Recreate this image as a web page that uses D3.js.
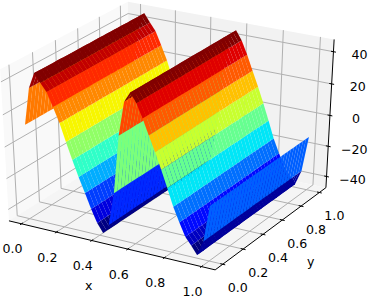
<!DOCTYPE html>
<html>
<head>
<meta charset="utf-8">
<script src="https://cdn.jsdelivr.net/npm/d3@7"></script>
<style>
  html, body { margin: 0; padding: 0; background: #fff; }
  svg { display: block; }
  text { font-family: "DejaVu Sans", sans-serif; font-size: 12.6px; fill: #000; }
</style>
</head>
<body>
<svg id="chart" width="368" height="299"></svg>
<script>
// grid of the surface
var xGrid = [0, 0.032, 0.065, 0.097, 0.129, 0.161, 0.194, 0.226, 0.258, 0.29, 0.323, 0.355, 0.387, 0.419, 0.452, 0.484,
             0.516, 0.548, 0.581, 0.613, 0.645, 0.677, 0.71, 0.742, 0.774, 0.806, 0.839, 0.871, 0.903, 0.935, 0.968, 1];
var yGrid = [0, 0.032, 0.065, 0.097, 0.129, 0.161, 0.194, 0.226, 0.258, 0.29, 0.323, 0.355, 0.387, 0.419, 0.452, 0.484,
             0.516, 0.548, 0.581, 0.613, 0.645, 0.677, 0.71, 0.742, 0.774, 0.806, 0.839, 0.871, 0.903, 0.935, 0.968, 1];
// height along x, it does not change along y
var zProfile = [12.6, 35.8, 45.5, 40.3, 35.6, 27.3, 18.3, 7.4, -3, -12.9, -22.3, -31.7, -39.9, -45.5, -39.4, -18.2,
                18.2, 39.4, 45.5, 39.9, 31.7, 22.3, 12.9, 3, -7.4, -18.3, -27.3, -35.6, -40.3, -45.5, -35.8, -12.6];
var xTicks = [0, 0.2, 0.4, 0.6, 0.8, 1];
var yTicks = [0, 0.2, 0.4, 0.6, 0.8, 1];
var zTicks = [-40, -20, 0, 20, 40];

// data to unit cube
var xCube = d3.scaleLinear().domain([-0.05, 1.05]).range([0, 1]);
var yCube = d3.scaleLinear().domain([-0.05, 1.05]).range([0, 1]);
var zCube = d3.scaleLinear().domain([-45.6, 45.6]).range([0, 1]);
// panes stick out of the cube a little
var lo = -1 / 48, hi = 49 / 48;

// camera, elev 30, azim -60, dist 10
var uAxis = [0.866, 0.5, 0];
var vAxis = [-0.25, 0.433, 0.866];
var wAxis = [0.433, -0.75, 0.5];
var dist = 10;
var sx = d3.scaleLinear().domain([-0.1, 0.1]).range([170 - 228.5, 170 + 228.5]);
var sy = d3.scaleLinear().domain([-0.1, 0.1]).range([131 + 166, 131 - 166]);

function dot(a, b) { return a[0] * b[0] + a[1] * b[1] + a[2] * b[2]; }
function depth(c) {
	var p = [c[0] - 0.5, c[1] - 0.5, c[2] - 0.5];
	return dist - dot(wAxis, p);
}
// cube coordinates to pixels
function project(c) {
	var p = [c[0] - 0.5, c[1] - 0.5, c[2] - 0.5];
	var d = dist - dot(wAxis, p);
	return [sx(dot(uAxis, p) / d), sy(dot(vAxis, p) / d)];
}

// jet colormap
var jetR = d3.scaleLinear().domain([0, 0.35, 0.66, 0.89, 1]).range([0, 0, 1, 1, 0.5]);
var jetG = d3.scaleLinear().domain([0, 0.125, 0.375, 0.64, 0.91, 1]).range([0, 0, 1, 1, 0, 0]);
var jetB = d3.scaleLinear().domain([0, 0.11, 0.34, 0.65, 1]).range([0.5, 1, 1, 0, 0]);
function jet(t) {
	return d3.rgb(jetR(t) * 255, jetG(t) * 255, jetB(t) * 255).formatHex();
}

var svg = d3.select("#chart");
var line = d3.line();

// panes
var panes = [
	{ fill: "#f9f9f9", pts: [[lo, lo, lo], [lo, hi, lo], [lo, hi, hi], [lo, lo, hi]] },
	{ fill: "#f2f2f2", pts: [[lo, hi, lo], [hi, hi, lo], [hi, hi, hi], [lo, hi, hi]] },
	{ fill: "#f5f5f5", pts: [[lo, lo, lo], [hi, lo, lo], [hi, hi, lo], [lo, hi, lo]] }
];
svg.selectAll("path.pane").data(panes).enter().append("path")
	.attr("class", "pane")
	.attr("fill", function(d) { return d.fill; })
	.attr("d", function(d) { return line(d.pts.map(project)) + "Z"; });

// grid lines on the panes
var gridLines = [];
xTicks.forEach(function(t) {
	var c = xCube(t);
	gridLines.push([[c, lo, lo], [c, hi, lo], [c, hi, hi]]);
});
yTicks.forEach(function(t) {
	var c = yCube(t);
	gridLines.push([[hi, c, lo], [lo, c, lo], [lo, c, hi]]);
});
zTicks.forEach(function(t) {
	var c = zCube(t);
	gridLines.push([[lo, lo, c], [lo, hi, c], [hi, hi, c]]);
});
svg.selectAll("path.grid").data(gridLines).enter().append("path")
	.attr("class", "grid")
	.attr("fill", "none")
	.attr("stroke", "#b0b0b0")
	.attr("stroke-width", 1)
	.attr("d", function(d) { return line(d.map(project)); });

// axis lines
var axisLines = [
	[[lo, lo, lo], [hi, lo, lo]],
	[[hi, lo, lo], [hi, hi, lo]],
	[[hi, hi, lo], [hi, hi, hi]]
];
svg.selectAll("path.axis").data(axisLines).enter().append("path")
	.attr("class", "axis")
	.attr("fill", "none")
	.attr("stroke", "#000")
	.attr("stroke-width", 1)
	.attr("d", function(d) { return line(d.map(project)); });

// tick marks
var tickMarks = [];
var tLen = 0.012;
xTicks.forEach(function(t) {
	var c = xCube(t);
	tickMarks.push([[c, lo + tLen, lo], [c, lo - tLen, lo]]);
});
yTicks.forEach(function(t) {
	var c = yCube(t);
	tickMarks.push([[hi - tLen, c, lo], [hi + tLen, c, lo]]);
});
zTicks.forEach(function(t) {
	var c = zCube(t);
	tickMarks.push([[hi - tLen, hi, c], [hi + tLen, hi, c]]);
});
svg.selectAll("path.tick").data(tickMarks).enter().append("path")
	.attr("class", "tick")
	.attr("fill", "none")
	.attr("stroke", "#000")
	.attr("stroke-width", 1)
	.attr("d", function(d) { return line(d.map(project)); });

// tick labels, placed from the projected tick
function addLabels(ticks, toCube, dx, dy, fmt) {
	ticks.forEach(function(t) {
		var p = project(toCube(t));
		svg.append("text")
			.attr("x", p[0] + dx)
			.attr("y", p[1] + dy)
			.attr("text-anchor", "middle")
			.attr("dominant-baseline", "central")
			.text(fmt(t));
	});
}
var oneDec = d3.format(".1f");
addLabels(xTicks, function(t) { return [xCube(t), lo, lo]; }, -9, 25, oneDec);
addLabels(yTicks, function(t) { return [hi, yCube(t), lo]; }, 15, 23, oneDec);
addLabels(zTicks, function(t) { return [hi, hi, zCube(t)]; }, 26, 3, function(t) { return String(t).replace("-", "\u2212"); });
addLabels([0.5], function(t) { return [xCube(t), lo, lo]; }, -21, 41, function() { return "x"; });
addLabels([0.5], function(t) { return [hi, yCube(t), lo]; }, 38, 34, function() { return "y"; });

// surface cells, colour from the mean height of the cell
var cells = [];
for (var i = 0; i < xGrid.length - 1; i++) {
	for (var j = 0; j < yGrid.length - 1; j++) {
		var z0 = zCube(zProfile[i]), z1 = zCube(zProfile[i + 1]);
		var x0 = xCube(xGrid[i]), x1 = xCube(xGrid[i + 1]);
		var y0 = yCube(yGrid[j]), y1 = yCube(yGrid[j + 1]);
		var pts = [[x0, y0, z0], [x1, y0, z1], [x1, y1, z1], [x0, y1, z0]];
		cells.push({
			pts: pts,
			mean: (zProfile[i] + zProfile[i + 1]) / 2,
			depth: d3.mean(pts, depth)
		});
	}
}
var color = d3.scaleLinear().domain(d3.extent(cells, function(d) { return d.mean; })).range([0, 1]);
// far cells first
cells.sort(function(a, b) { return b.depth - a.depth; });
svg.selectAll("path.cell").data(cells).enter().append("path")
	.attr("class", "cell")
	.attr("fill", function(d) { return jet(color(d.mean)); })
	.attr("d", function(d) { return line(d.pts.map(project)) + "Z"; });
</script>
</body>
</html>
